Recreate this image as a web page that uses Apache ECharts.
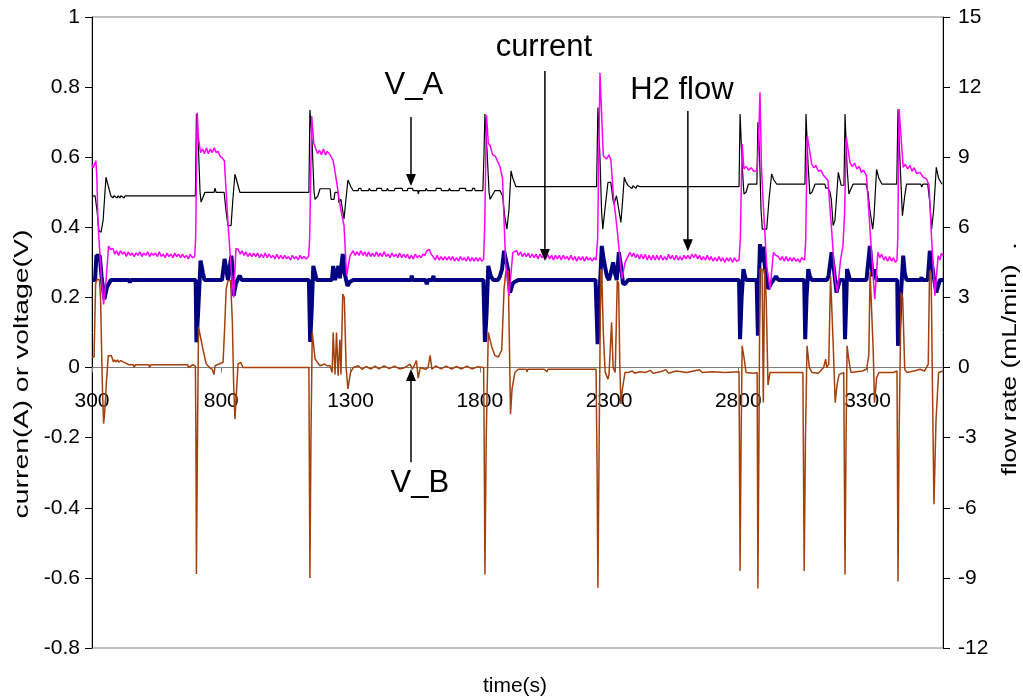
<!DOCTYPE html>
<html><head><meta charset="utf-8">
<script src="https://cdn.jsdelivr.net/npm/echarts@6/dist/echarts.min.js"></script>
<style>html,body{margin:0;padding:0;background:#fff}#c{width:1023px;height:698px}</style>
</head><body><div id="c"></div>
<script>
const xTickValues = [300,800,1300,1800,2300,2800,3300];

const vA = [[300,0.49],[312,0.49],[319,0.45],[327,0.39],[335,0.386],[343,0.42],[354,0.543],[362,0.52],[373,0.49],[381,0.484],[385,0.49],[397,0.484],[401,0.49],[408,0.484],[412,0.49],[424,0.484],[428,0.49],
[700,0.49],[704,0.723],[710,0.66],[718,0.5],[722,0.472],[729,0.475],[737,0.5],[772,0.5],[776,0.512],[780,0.5],[811,0.5],[818,0.45],[826,0.405],[838,0.405],[845,0.48],[853,0.552],[861,0.53],[872,0.5],
[1139,0.5],[1143,0.735],[1151,0.65],[1159,0.5],[1163,0.48],[1174,0.49],[1182,0.51],[1221,0.51],[1225,0.48],[1236,0.48],[1240,0.5],[1252,0.5],[1255,0.47],[1263,0.48],[1267,0.46],[1275,0.424],[1281,0.47],[1290,0.535],[1302,0.515],[1310,0.505],
[1330,0.505],[1332,0.511],[1340,0.511],[1342,0.505],[1370,0.505],[1372,0.511],[1376,0.511],[1378,0.505],[1400,0.505],[1402,0.511],[1420,0.511],[1422,0.505],[1440,0.505],[1442,0.511],[1446,0.511],[1448,0.505],[1470,0.505],[1472,0.511],[1500,0.511],[1502,0.505],[1520,0.505],[1522,0.511],[1540,0.511],[1542,0.505],[1560,0.505],[1562,0.495],[1566,0.505],[1590,0.505],[1592,0.511],[1596,0.511],[1598,0.505],[1630,0.505],[1632,0.511],[1650,0.511],[1652,0.505],[1680,0.505],[1682,0.511],[1686,0.511],[1688,0.505],[1720,0.505],[1722,0.511],[1745,0.511],[1747,0.505],[1770,0.505],[1772,0.511],[1780,0.511],[1782,0.505],[1812,0.505],
[1816,0.6],[1820,0.723],[1828,0.62],[1836,0.5],[1840,0.48],[1847,0.48],[1859,0.505],[1878,0.505],[1888,0.49],[1897,0.43],[1905,0.395],[1913,0.45],[1921,0.561],[1928,0.54],[1940,0.516],
[2252,0.516],[2257,0.742],[2265,0.6],[2271,0.45],[2276,0.395],[2284,0.45],[2296,0.528],[2307,0.528],[2315,0.48],[2319,0.466],[2329,0.49],[2338,0.45],[2346,0.414],[2352,0.47],[2359,0.543],[2365,0.53],[2374,0.519],[2389,0.511],[2393,0.519],[2404,0.511],[2408,0.519],[2420,0.516],
[2803,0.516],[2807,0.723],[2815,0.58],[2822,0.495],[2830,0.5],[2839,0.523],[2872,0.523],[2876,0.7],[2882,0.62],[2888,0.45],[2893,0.395],[2910,0.395],[2919,0.48],[2929,0.552],[2938,0.535],[2949,0.523],
[3058,0.523],[3062,0.723],[3070,0.58],[3077,0.495],[3085,0.5],[3097,0.523],[3135,0.523],[3139,0.512],[3147,0.512],[3155,0.5],[3160,0.48],[3167,0.405],[3174,0.42],[3187,0.557],[3198,0.52],[3209,0.52],[3213,0.723],[3221,0.57],[3228,0.495],[3236,0.51],[3244,0.523],[3294,0.523],[3302,0.5],[3309,0.45],[3320,0.395],[3325,0.43],[3335,0.565],[3344,0.54],[3356,0.523],[3413,0.523],[3418,0.737],[3425,0.6],[3435,0.433],[3444,0.49],[3451,0.523],[3506,0.523],[3510,0.515],[3514,0.523],[3533,0.523],[3541,0.47],[3548,0.395],[3556,0.45],[3566,0.571],[3575,0.54],[3588,0.523]];

const current = [[300,0.25],[312,0.25],[317,0.319],[330,0.319],[337,0.26],[348,0.195],[358,0.23],[373,0.25],[443,0.25],[446,0.242],[449,0.25],
[701,0.25],[704,0.072],[710,0.15],[720,0.305],[729,0.27],[735,0.25],[803,0.25],[813,0.31],[820,0.31],[826,0.25],[832,0.25],[839,0.319],[844,0.28],[848,0.205],[857,0.24],[871,0.262],[880,0.25],
[1139,0.25],[1144,0.073],[1149,0.15],[1156,0.29],[1169,0.25],[1228,0.25],[1233,0.29],[1240,0.25],[1247,0.25],[1253,0.29],[1259,0.255],[1270,0.324],[1277,0.27],[1288,0.233],[1298,0.245],[1311,0.25],
[1534,0.25],[1537,0.262],[1540,0.25],[1590,0.25],[1595,0.238],[1600,0.25],[1617,0.25],[1621,0.262],[1623,0.25],
[1814,0.25],[1820,0.073],[1826,0.15],[1833,0.29],[1843,0.26],[1852,0.25],[1870,0.25],[1878,0.26],[1886,0.28],[1894,0.333],[1901,0.33],[1909,0.28],[1917,0.214],[1928,0.24],[1936,0.245],[1949,0.25],
[2248,0.25],[2256,0.067],[2263,0.2],[2272,0.347],[2279,0.31],[2284,0.29],[2292,0.26],[2300,0.25],[2307,0.27],[2316,0.3],[2323,0.27],[2330,0.25],[2338,0.329],[2348,0.28],[2354,0.24],[2362,0.238],[2374,0.25],
[2803,0.25],[2807,0.081],[2813,0.2],[2820,0.281],[2826,0.26],[2830,0.25],[2871,0.25],[2876,0.091],[2880,0.25],[2884,0.352],[2891,0.3],[2897,0.345],[2904,0.28],[2916,0.224],[2927,0.24],[2946,0.26],[2955,0.25],
[3055,0.25],[3059,0.081],[3064,0.2],[3071,0.281],[3077,0.26],[3084,0.25],[3143,0.25],[3149,0.26],[3161,0.329],[3170,0.28],[3180,0.214],[3193,0.25],[3209,0.25],[3213,0.081],[3218,0.2],[3221,0.281],[3232,0.25],
[3296,0.25],[3309,0.347],[3320,0.26],[3325,0.28],[3335,0.25],[3415,0.25],[3418,0.062],[3425,0.15],[3438,0.319],[3444,0.27],[3451,0.25],[3506,0.25],[3509,0.258],[3511,0.25],[3533,0.25],[3541,0.333],[3548,0.3],[3556,0.26],[3566,0.214],[3580,0.25],[3592,0.25]];

const vB = [[300,0.03],[308,0.03],[314,0.24],[320,0.252],[329,0.25],[333,0.2],[340,-0.05],[345,-0.16],[350,-0.12],[355,-0.05],[363,0.034],[370,0.03],[375,0.034],[383,0.016],[388,0.022],[394,0.016],[399,0.022],[404,0.015],[412,0.02],[420,0.016],[443,0.008],[460,0.008],[463,0.0],[468,0.008],[520,0.008],[523,0.0],[528,0.008],[670,0.008],[673,0.0],[690,0.008],[700,0.004],
[702,-0.2],[704,-0.589],[708,-0.2],[712,0.115],[716,0.11],[729,0.053],[742,0.01],[755,0.0],[765,-0.005],[772,-0.02],[776,0.005],[781,0.01],[807,0.015],[813,0.11],[819,0.224],[826,0.248],[836,0.248],[843,0.13],[848,-0.05],[853,-0.147],[858,-0.08],[865,0.01],[875,0.015],[884,0.0],
[1139,0.0],[1143,-0.6],[1147,-0.2],[1152,0.1],[1163,0.024],[1182,0.005],[1200,0.01],[1208,0.005],[1221,0.005],[1229,-0.014],[1233,0.1],[1240,-0.02],[1246,0.1],[1252,-0.023],[1259,0.08],[1263,-0.02],[1270,0.21],[1276,0.2],[1283,0.0],[1290,-0.061],[1300,-0.014],[1311,0.0],
[1330,0.005],[1345,-0.005],[1360,0.003],[1380,-0.004],[1395,0.004],[1410,-0.004],[1430,0.005],[1450,-0.003],[1470,0.004],[1490,-0.004],[1510,0.0],[1530,0.01],[1540,-0.005],[1555,0.02],[1562,-0.03],[1570,0.0],[1590,-0.005],[1600,0.0],[1608,0.035],[1615,-0.005],[1630,0.005],[1650,-0.004],[1670,0.004],[1690,-0.004],[1710,0.003],[1730,-0.004],[1750,0.004],[1770,-0.004],[1790,0.002],[1815,0.0],
[1817,-0.2],[1820,-0.59],[1825,-0.2],[1833,0.1],[1846,0.06],[1859,0.034],[1872,0.03],[1885,0.05],[1894,0.224],[1901,0.276],[1910,0.276],[1914,0.1],[1919,-0.133],[1925,-0.06],[1936,-0.014],[1949,-0.005],
[1980,-0.005],[1983,-0.012],[1986,-0.005],[2050,-0.005],[2060,-0.012],[2064,-0.005],[2150,-0.005],[2250,-0.005],
[2254,-0.3],[2257,-0.628],[2262,-0.2],[2268,0.281],[2272,0.27],[2278,0.1],[2285,-0.013],[2296,-0.033],[2300,-0.02],[2310,0.129],[2316,0.0],[2324,-0.014],[2332,0.248],[2337,0.24],[2342,0.0],[2346,-0.104],[2352,-0.06],[2362,-0.014],[2374,-0.014],
[2390,-0.01],[2400,-0.016],[2420,-0.012],[2440,-0.014],[2460,-0.008],[2470,-0.016],[2500,-0.012],[2520,-0.006],[2530,-0.016],[2560,-0.01],[2600,-0.014],[2650,-0.006],[2660,-0.014],[2700,-0.012],[2750,-0.014],[2803,-0.012],
[2807,-0.58],[2811,-0.2],[2815,0.062],[2822,0.03],[2830,-0.014],[2860,-0.016],[2873,-0.014],[2876,-0.63],[2880,-0.2],[2884,0.281],[2892,0.281],[2897,-0.1],[2902,0.281],[2908,0.2],[2915,-0.05],[2923,-0.014],[2940,-0.014],[3050,-0.014],
[3055,-0.58],[3060,-0.2],[3066,0.062],[3075,0.0],[3085,-0.014],[3110,-0.016],[3130,0.0],[3138,0.024],[3142,0.0],[3150,0.01],[3157,0.262],[3163,0.262],[3168,0.05],[3175,-0.1],[3182,-0.05],[3190,-0.02],[3208,-0.014],
[3213,-0.59],[3217,-0.2],[3221,0.062],[3228,0.02],[3236,-0.014],[3280,-0.01],[3296,-0.005],[3305,0.034],[3310,0.272],[3316,0.27],[3322,0.05],[3327,-0.1],[3335,-0.03],[3344,-0.014],[3400,-0.014],[3414,-0.01],
[3418,-0.61],[3422,-0.2],[3430,0.214],[3436,0.2],[3444,-0.005],[3452,-0.014],[3480,-0.01],[3503,-0.005],[3520,-0.01],[3535,0.01],[3540,0.276],[3546,0.27],[3552,-0.1],[3557,-0.39],[3565,-0.15],[3575,-0.014],[3592,-0.01]];

const h2Flow = [[300,8.7],[305,8.55],[310,8.6],[315,8.85],[319,8.1],[323,6.2],[336,3.9],[345,2.7],[355,3.8],[364,5.2],[372,5.05],[381,5.1],
[388,4.85],[395,5.0],[403,4.8],[410,5.0],[418,4.85],[425,4.95],[433,4.75],[440,4.95],[448,4.8],[455,4.9],[463,4.75],[470,4.9],[478,4.8],[485,4.95],[493,4.75],[500,4.9],[508,4.8],[515,4.95],[523,4.75],[530,4.9],[538,4.8],[545,4.9],[553,4.75],[560,4.95],[568,4.75],[575,4.85],[583,4.7],[590,4.9],[598,4.75],[605,4.85],[613,4.7],[620,4.9],[628,4.75],[635,4.85],[643,4.7],[650,4.85],[658,4.7],[665,4.8],[673,4.65],[680,4.85],[688,4.7],[697,4.75],
[701,5.5],[707,10.9],[712,9.8],[720,9.2],[728,9.35],[735,9.15],[743,9.4],[750,9.15],[758,9.35],[765,9.2],[773,9.4],[780,9.2],[788,9.25],[795,9.05],[805,8.95],[812,8.85],[826,6.2],[839,4.1],[848,3.0],[857,5.1],[866,5.05],
[873,4.85],[880,5.0],[888,4.8],[895,4.95],[903,4.75],[910,4.9],[918,4.75],[925,4.9],[933,4.75],[940,4.9],[948,4.7],[955,4.85],[963,4.7],[970,4.9],[978,4.7],[985,4.85],[993,4.7],[1000,4.8],[1008,4.65],[1015,4.85],[1023,4.65],[1030,4.8],[1038,4.65],[1045,4.8],[1053,4.65],[1060,4.75],[1068,4.6],[1075,4.8],[1083,4.65],[1090,4.75],[1098,4.6],[1105,4.8],[1113,4.65],[1120,4.75],[1128,4.65],[1138,4.75],
[1142,5.5],[1150,10.75],[1158,9.6],[1166,9.35],[1173,9.15],[1180,9.3],[1188,9.1],[1195,9.35],[1203,9.1],[1210,9.25],[1221,9.1],[1233,8.85],[1247,7.9],[1256,7.2],[1265,6.6],[1275,6.07],[1285,3.93],[1298,4.78],[1310,5.0],
[1318,4.8],[1325,4.95],[1333,4.8],[1340,5.0],[1348,4.8],[1355,4.95],[1363,4.75],[1370,4.95],[1378,4.75],[1385,4.9],[1393,4.75],[1400,4.95],[1408,4.75],[1415,4.9],[1423,4.75],[1430,4.95],[1438,4.75],[1445,4.85],[1453,4.7],[1460,4.9],[1468,4.75],[1475,4.85],[1483,4.7],[1490,4.9],[1498,4.7],[1505,4.85],[1513,4.7],[1520,4.85],[1528,4.65],[1535,4.8],[1543,4.65],[1550,4.85],[1558,4.7],[1565,4.8],[1573,4.7],[1580,4.85],[1588,4.8],[1595,5.0],[1605,5.05],[1612,4.85],[1620,4.75],[1628,4.6],[1635,4.8],[1643,4.6],[1650,4.75],[1658,4.6],[1665,4.75],[1673,4.6],[1680,4.75],[1688,4.6],[1695,4.75],[1703,4.55],[1710,4.7],[1718,4.55],[1725,4.75],[1733,4.6],[1740,4.7],[1748,4.55],[1755,4.75],[1763,4.55],[1770,4.7],[1778,4.55],[1785,4.7],[1793,4.55],[1800,4.7],[1808,4.55],[1815,4.65],
[1819,6.0],[1826,10.8],[1833,9.6],[1840,9.5],[1850,9.1],[1860,9.05],[1870,8.8],[1878,8.6],[1888,8.1],[1900,4.5],[1913,3.07],[1928,4.93],[1935,4.85],
[1943,5.0],[1950,4.8],[1958,4.95],[1965,4.75],[1973,4.9],[1980,4.75],[1988,4.9],[1995,4.7],[2003,4.85],[2010,4.7],[2018,4.85],[2025,4.65],[2033,4.85],[2040,4.7],[2048,4.8],[2055,4.65],[2063,4.85],[2070,4.65],[2078,4.8],[2085,4.6],[2093,4.8],[2100,4.65],[2108,4.8],[2115,4.6],[2123,4.8],[2130,4.65],[2138,4.75],[2145,4.6],[2153,4.8],[2160,4.6],[2168,4.75],[2175,4.55],[2183,4.75],[2190,4.6],[2198,4.75],[2205,4.55],[2213,4.75],[2220,4.6],[2228,4.7],[2235,4.55],[2243,4.7],[2250,4.6],
[2256,5.5],[2265,12.6],[2278,9.06],[2290,8.92],[2300,9.1],[2307,8.9],[2318,7.2],[2330,6.07],[2340,4.93],[2350,3.79],[2362,4.5],[2381,4.93],
[2388,4.75],[2395,4.9],[2403,4.7],[2410,4.85],[2418,4.65],[2425,4.85],[2433,4.65],[2440,4.85],[2448,4.6],[2455,4.8],[2463,4.6],[2470,4.8],[2478,4.6],[2485,4.8],[2493,4.6],[2500,4.8],[2508,4.6],[2515,4.75],[2523,4.6],[2530,4.85],[2538,4.65],[2545,4.8],[2553,4.6],[2560,4.8],[2568,4.6],[2575,4.75],[2583,4.6],[2590,4.8],[2598,4.65],[2605,4.8],[2613,4.65],[2620,4.85],[2628,4.7],[2635,4.85],[2643,4.65],[2650,4.8],[2658,4.6],[2665,4.75],[2673,4.6],[2680,4.8],[2688,4.6],[2695,4.75],[2703,4.55],[2710,4.7],[2718,4.55],[2725,4.75],[2733,4.55],[2740,4.7],[2748,4.5],[2755,4.7],[2763,4.55],[2770,4.7],[2778,4.5],[2785,4.7],[2793,4.55],[2803,4.6],
[2808,5.5],[2815,9.56],[2822,8.5],[2831,8.6],[2840,8.45],[2850,8.55],[2860,8.4],[2873,8.42],[2878,9.5],[2884,11.78],[2890,8.5],[2897,6.92],[2910,4.36],[2923,3.36],[2936,4.93],[2945,4.8],[2955,4.75],
[2963,4.6],[2970,4.75],[2978,4.55],[2985,4.75],[2993,4.55],[3000,4.7],[3008,4.55],[3015,4.7],[3023,4.55],[3030,4.65],[3038,4.5],[3045,4.7],[3057,4.6],
[3061,5.5],[3067,9.92],[3084,8.71],[3092,8.55],[3100,8.65],[3110,8.4],[3120,8.45],[3128,8.25],[3135,8.3],[3147,8.0],[3161,5.93],[3174,3.79],[3183,3.22],[3196,4.64],[3205,5.21],[3211,6.5],[3218,9.85],[3232,8.78],[3241,8.6],[3250,8.75],[3259,8.5],[3268,8.6],[3276,8.35],[3284,8.45],[3296,8.21],[3309,6.0],[3320,4.2],[3328,2.93],[3340,4.93],[3348,4.7],[3355,4.85],[3363,4.6],[3370,4.75],[3378,4.55],[3385,4.75],[3393,4.55],[3400,4.7],[3408,4.5],[3414,4.6],
[3417,5.5],[3422,11.06],[3438,8.57],[3446,8.7],[3455,8.5],[3464,8.65],[3472,8.4],[3480,8.55],[3490,8.3],[3503,8.35],[3515,8.15],[3528,8.07],[3538,7.8],[3548,5.5],[3561,3.07],[3573,4.78],[3580,4.6],[3586,4.9],[3592,4.8]];

const annotationLabels = ['V_A','current','H2 flow','V_B'];
const annotationTextAt = [[1545,0.805],[2048,0.913],[2582,0.79],[1568,-0.33]];
const annotationArrowFrom = [[1534,0.715],[2052,0.846],[2605,0.732],[1534,-0.27]];
const annotationArrowTo = [[1534,0.518],[2052,0.304],[2605,0.332],[1534,-0.004]];

const FONT = 'Liberation Sans, Arial, sans-serif';
const GRID = {left:92,right:80,top:17,bottom:50};
const LEFT_MIN = -0.8, LEFT_MAX = 1;
const gridH = 698 - GRID.top - GRID.bottom;
const zeroOffset = -gridH * (0 - LEFT_MIN) / (LEFT_MAX - LEFT_MIN);

const chart = echarts.init(document.getElementById('c'), null, {renderer:'canvas'});
chart.setOption({
  animation:false,
  backgroundColor:'#fff',
  grid:Object.assign({show:true,borderColor:'#808080',borderWidth:1}, GRID),
  xAxis:{type:'value',min:300,max:3592,position:'bottom',offset:zeroOffset,
    axisLine:{onZero:false,lineStyle:{color:'#808080',width:1}},
    axisTick:{show:true,length:5,lineStyle:{color:'#808080'},customValues:xTickValues},
    axisLabel:{customValues:xTickValues,formatter:(v)=>String(v),fontSize:21,fontFamily:FONT,color:'#000',margin:23},
    splitLine:{show:false}},
  yAxis:[
    {type:'value',min:LEFT_MIN,max:LEFT_MAX,interval:0.2,position:'left',
     axisLine:{show:true,onZero:false,lineStyle:{color:'#000',width:1}},
     axisTick:{show:true,length:7,lineStyle:{color:'#000'}},
     axisLabel:{fontSize:21,fontFamily:FONT,color:'#000',margin:12},
     splitLine:{show:false}},
    {type:'value',min:-12,max:15,interval:3,position:'right',
     axisLine:{show:true,onZero:false,lineStyle:{color:'#000',width:1}},
     axisTick:{show:true,length:7,lineStyle:{color:'#000'}},
     axisLabel:{fontSize:21,fontFamily:FONT,color:'#000',margin:15},
     splitLine:{show:false}}
  ],
  series:[
    {name:'current',type:'line',yAxisIndex:0,data:current,showSymbol:false,lineStyle:{color:'#000080',width:4},z:2},
    {name:'V_A',type:'line',yAxisIndex:0,data:vA,showSymbol:false,lineStyle:{color:'#000000',width:1.2},z:3},
    {name:'V_B',type:'line',yAxisIndex:0,data:vB,showSymbol:false,lineStyle:{color:'#a3400c',width:1.5},z:3},
    {name:'H2 flow',type:'line',yAxisIndex:1,data:h2Flow,showSymbol:false,lineStyle:{color:'#ff00ff',width:1.5},z:4}
  ]
});

const g = [];
for (let i=0;i<annotationLabels.length;i++){
  const tp = chart.convertToPixel({xAxisIndex:0,yAxisIndex:0}, annotationTextAt[i]);
  const a = chart.convertToPixel({xAxisIndex:0,yAxisIndex:0}, annotationArrowFrom[i]);
  const b = chart.convertToPixel({xAxisIndex:0,yAxisIndex:0}, annotationArrowTo[i]);
  g.push({type:'text',x:tp[0],y:tp[1],z:10,style:{text:annotationLabels[i],fontSize:31,fontFamily:FONT,fill:'#000',align:'center',verticalAlign:'middle'}});
  const dir = b[1] > a[1] ? 1 : -1;
  g.push({type:'line',z:10,shape:{x1:a[0],y1:a[1],x2:b[0],y2:b[1]-dir*10},style:{stroke:'#000',lineWidth:1.5}});
  g.push({type:'polygon',z:10,shape:{points:[[b[0],b[1]],[b[0]-5,b[1]-dir*12],[b[0]+5,b[1]-dir*12]]},style:{fill:'#000'}});
}
g.push({type:'text',x:515,y:686,style:{text:'time(s)',fontSize:21,fontFamily:FONT,fill:'#000',align:'center',verticalAlign:'middle'}});
g.push({type:'text',x:22,y:374,rotation:Math.PI/2,scaleX:1.42,style:{text:'curren(A) or voltage(V)',fontSize:20,fontFamily:FONT,fill:'#000',align:'center',verticalAlign:'middle'}});
g.push({type:'text',x:1010,y:359,rotation:Math.PI/2,scaleX:1.32,style:{text:'flow rate (mL/min)  .',fontSize:20,fontFamily:FONT,fill:'#000',align:'center',verticalAlign:'middle'}});
chart.setOption({graphic:g});
</script></body></html>
